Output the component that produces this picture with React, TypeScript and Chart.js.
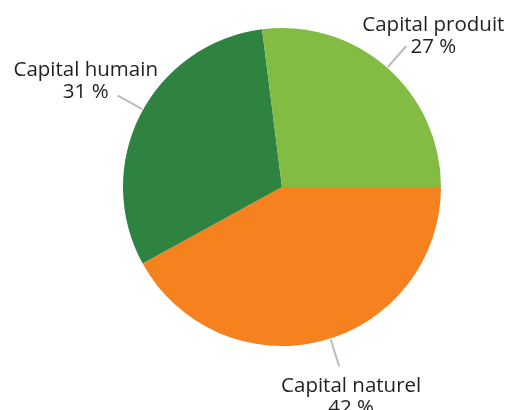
import React, { useEffect, useRef } from "react";
import { Chart, registerables } from "chart.js";

Chart.register(...registerables);

const categories = ["Capital naturel", "Capital humain", "Capital produit"];
const shares = [42, 31, 27];
const colors = ["#f5821f", "#2e8340", "#83bc43"];
// label placement style: angle tweak (deg), text offset from leader end
const labelStyle = [
  { da: -3.3, dx: 12, dy: 26 },
  { da: 2.1, dx: -32, dy: -20 },
  { da: 0, dx: 27, dy: -15 },
];

const FONT = "20.5px 'Open Sans'";

const labelPlugin = {
  id: "outerLabels",
  afterDatasetsDraw(chart: any) {
    const ctx = chart.ctx;
    const meta = chart.getDatasetMeta(0);
    ctx.save();
    meta.data.forEach((arc: any, i: number) => {
      const p = arc.getProps(["x", "y", "startAngle", "endAngle", "outerRadius"], true);
      const st = labelStyle[i];
      const a = (p.startAngle + p.endAngle) / 2 + (st.da * Math.PI) / 180;
      const r0 = p.outerRadius + 1;
      const r1 = p.outerRadius + 29;
      const x0 = p.x + Math.cos(a) * r0;
      const y0 = p.y + Math.sin(a) * r0;
      const x1 = p.x + Math.cos(a) * r1;
      const y1 = p.y + Math.sin(a) * r1;
      ctx.strokeStyle = "#bdbdbd";
      ctx.lineWidth = 2;
      ctx.beginPath();
      ctx.moveTo(x0, y0);
      ctx.lineTo(x1, y1);
      ctx.stroke();
      ctx.fillStyle = "#231f20";
      ctx.font = FONT;
      ctx.textAlign = "center";
      ctx.textBaseline = "alphabetic";
      const cx = x1 + st.dx;
      const by = y1 + st.dy;
      ctx.fillText(categories[i], cx, by);
      ctx.fillText(shares[i] + " %", cx, by + 22);
    });
    ctx.restore();
  },
};

export default function App() {
  const ref = useRef<HTMLCanvasElement>(null);
  useEffect(() => {
    if (!ref.current) return;
    const chart = new Chart(ref.current, {
      type: "pie",
      data: {
        labels: categories,
        datasets: [
          {
            data: shares,
            backgroundColor: colors,
            borderWidth: 0,
          },
        ],
      },
      options: {
        responsive: false,
        animation: false,
        rotation: 90,
        layout: { padding: { left: 123, right: 70, top: 28, bottom: 64 } },
        plugins: {
          legend: { display: false },
          tooltip: { enabled: false },
        },
      },
      plugins: [labelPlugin],
    });
    return () => chart.destroy();
  }, []);
  return (
    <div style={{ position: "fixed", left: 0, top: 0, width: 511, height: 410, background: "#fff" }}>
      <canvas ref={ref} width={511} height={410} />
    </div>
  );
}
